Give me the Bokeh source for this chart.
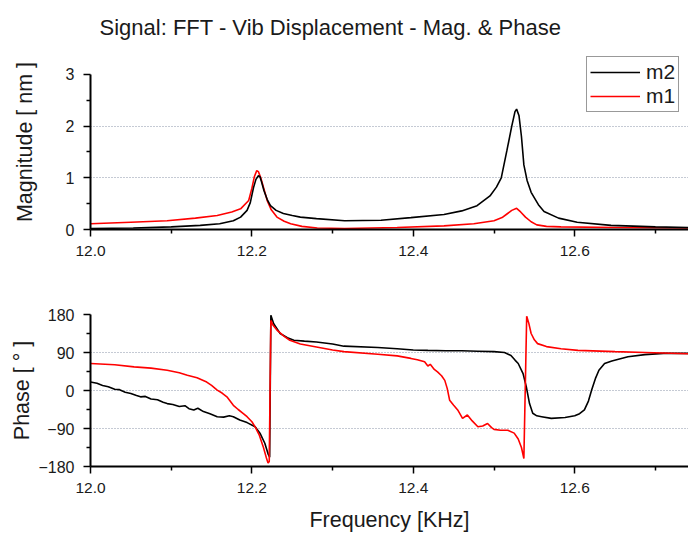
from bokeh.plotting import figure
from bokeh.layouts import column
from bokeh.models import Range1d, FixedTicker, PrintfTickFormatter, Legend, LegendItem
from bokeh.embed import file_html
from bokeh.resources import INLINE

# ---------------- data ----------------
title_text = "Signal: FFT - Vib Displacement - Mag. & Phase"
x_ticks = [12.0, 12.2, 12.4, 12.6]
x_minor = [12.1, 12.3, 12.5, 12.7]
mag_ticks = [0, 1, 2, 3]
mag_minor = [0.5, 1.5, 2.5]
phase_ticks = [-180, -90, 0, 90, 180]
phase_minor = [-135, -45, 45, 135]

mag_m2_f = [12.000, 12.053, 12.100, 12.136, 12.160, 12.177, 12.186, 12.194, 12.198, 12.202,
            12.205, 12.208, 12.210, 12.212, 12.215, 12.219, 12.223, 12.230, 12.239, 12.250,
            12.260, 12.280, 12.315, 12.360, 12.397, 12.438, 12.460, 12.479, 12.495, 12.503,
            12.509, 12.516, 12.522, 12.526, 12.528, 12.531, 12.534, 12.537, 12.541, 12.546,
            12.555, 12.562, 12.580, 12.603, 12.645, 12.700, 12.741]
mag_m2 = [0.02, 0.03, 0.05, 0.08, 0.11, 0.17, 0.24, 0.37, 0.52, 0.81,
          0.97, 1.04, 1.02, 0.92, 0.75, 0.58, 0.46, 0.37, 0.31, 0.27,
          0.24, 0.21, 0.17, 0.18, 0.23, 0.29, 0.36, 0.46, 0.65, 0.82,
          1.00, 1.53, 2.00, 2.28, 2.33, 2.20, 1.80, 1.25, 0.95, 0.72,
          0.48, 0.35, 0.22, 0.14, 0.08, 0.05, 0.04]

mag_m1_f = [12.000, 12.050, 12.095, 12.130, 12.157, 12.175, 12.186, 12.196, 12.200, 12.203,
            12.206, 12.208, 12.211, 12.215, 12.219, 12.224, 12.231, 12.240, 12.248, 12.262,
            12.281, 12.315, 12.380, 12.438, 12.475, 12.500, 12.510, 12.516, 12.522, 12.528,
            12.533, 12.539, 12.546, 12.553, 12.565, 12.583, 12.650, 12.741]
mag_m1 = [0.11, 0.14, 0.17, 0.22, 0.27, 0.34, 0.40, 0.56, 0.80, 1.02,
          1.14, 1.12, 1.00, 0.78, 0.56, 0.38, 0.24, 0.16, 0.11, 0.06,
          0.03, 0.02, 0.04, 0.07, 0.11, 0.17, 0.23, 0.30, 0.37, 0.41,
          0.34, 0.24, 0.15, 0.09, 0.06, 0.05, 0.04, 0.03]

ph_m2_f = [12.000, 12.008, 12.015, 12.022, 12.030, 12.036, 12.043, 12.050, 12.057, 12.062,
           12.068, 12.075, 12.083, 12.090, 12.095, 12.102, 12.110, 12.117, 12.122, 12.128,
           12.133, 12.140, 12.148, 12.157, 12.165, 12.172, 12.177, 12.185, 12.194, 12.204,
           12.210, 12.216, 12.220, 12.222, 12.2235, 12.227, 12.235, 12.244, 12.252, 12.265,
           12.280, 12.300, 12.314, 12.356, 12.380, 12.400, 12.418, 12.440, 12.460, 12.480,
           12.500, 12.513, 12.521, 12.526, 12.530, 12.536, 12.540, 12.544, 12.548, 12.553,
           12.559, 12.571, 12.588, 12.600, 12.606, 12.612, 12.617, 12.621, 12.626, 12.630,
           12.637, 12.646, 12.666, 12.687, 12.710, 12.741]
ph_m2 = [20, 17, 12, 9, 3, 2, -4, -7, -12, -15,
         -14, -20, -22, -28, -31, -33, -38, -36, -43, -46,
         -42, -50, -55, -62, -63, -60, -62, -70, -76, -86,
         -101, -125, -150, -158, 178, 158, 135, 125, 119, 117,
         115, 110, 105, 102, 99, 96, 95, 94, 94, 93,
         92, 90, 83, 72, 64, 40, 9, -31, -54, -60,
         -62, -66, -64, -60, -55, -46, -25, 1, 30, 48,
         64, 70, 80, 85, 88, 88]

ph_m1_f = [12.000, 12.030, 12.054, 12.075, 12.095, 12.110, 12.120, 12.132, 12.144, 12.150,
           12.157, 12.163, 12.169, 12.177, 12.183, 12.189, 12.194, 12.200, 12.204, 12.209,
           12.214, 12.218, 12.220, 12.2215, 12.2235, 12.226, 12.231, 12.240, 12.247, 12.260,
           12.280, 12.300, 12.314, 12.356, 12.380, 12.397, 12.405, 12.414, 12.418, 12.421,
           12.426, 12.430, 12.435, 12.439, 12.442, 12.445, 12.450, 12.455, 12.461, 12.467,
           12.473, 12.480, 12.486, 12.492, 12.497, 12.500, 12.508, 12.517, 12.525, 12.530,
           12.534, 12.537, 12.5405, 12.543, 12.546, 12.550, 12.554, 12.565, 12.583, 12.604,
           12.650, 12.687, 12.741]
ph_m1 = [64, 61, 56, 53, 48, 42, 36, 30, 20, 12,
         1, -6, -15, -35, -45, -54, -62, -74, -86, -105,
         -133, -160, -172, -168, 166, 155, 143, 128, 119, 110,
         103, 96, 92, 86, 82, 76, 73, 68, 58, 62,
         50, 44, 35, 24, 5, -23, -35, -46, -66, -58,
         -72, -86, -84, -78, -88, -92, -94, -94, -101, -115,
         -135, -161, 176, 160, 135, 120, 111, 104, 99, 95,
         92, 90, 87]

# ---------------- styling helpers ----------------
FONT = "Liberation Sans"
X_START, X_END = 12.0, 12.741


def style_axes(p, yticks, yminor, ylabel, y_standoff, show_xlabel):
    p.outline_line_color = None
    p.background_fill_color = "white"
    p.border_fill_color = "white"
    p.xgrid.visible = False
    for ax in (p.xaxis[0], p.yaxis[0]):
        ax.axis_line_width = 2
        ax.axis_line_color = "black"
        ax.major_tick_out = 7
        ax.major_tick_in = 0
        ax.minor_tick_out = 4
        ax.minor_tick_in = 0
        ax.major_tick_line_width = 1.5
        ax.minor_tick_line_width = 1.5
        ax.major_label_text_font = FONT
        ax.major_label_text_color = "#1a1a1a"
        ax.axis_label_text_font = FONT
        ax.axis_label_text_font_size = "21.5px"
        ax.axis_label_text_font_style = "normal"
        ax.axis_label_text_color = "#1a1a1a"
    p.xaxis[0].major_label_text_font_size = "15.5px"
    p.yaxis[0].major_label_text_font_size = "16px"
    p.xaxis[0].ticker = FixedTicker(ticks=x_ticks, minor_ticks=x_minor)
    p.xaxis[0].formatter = PrintfTickFormatter(format="%.1f")
    p.xaxis[0].major_label_standoff = 9
    p.yaxis[0].ticker = FixedTicker(ticks=yticks, minor_ticks=yminor)
    p.yaxis[0].major_label_standoff = 9
    p.yaxis[0].axis_label = ylabel
    p.yaxis[0].axis_label_standoff = y_standoff
    if show_xlabel:
        p.xaxis[0].axis_label = "Frequency [KHz]"
        p.xaxis[0].axis_label_standoff = 12


# ---------------- top: magnitude ----------------
# frame spans a little above 3 so the legend can sit higher than the top tick
p1 = figure(width=688, height=290, output_backend="svg", toolbar_location=None,
            x_range=Range1d(X_START, X_END), y_range=Range1d(0, 3.387),
            min_border_left=90, min_border_right=0, min_border_top=54, min_border_bottom=61)
style_axes(p1, mag_ticks, mag_minor, "Magnitude [ nm ]", 26, False)
p1.yaxis[0].bounds = (0, 3)
p1.ygrid.ticker = FixedTicker(ticks=[1, 2])
p1.ygrid.grid_line_color = "#8a94a8"
p1.ygrid.grid_line_dash = "1 2"
p1.ygrid.grid_line_width = 1

r_m1 = p1.line(mag_m1_f, mag_m1, line_color="#ff0000", line_width=1.6)
r_m2 = p1.line(mag_m2_f, mag_m2, line_color="black", line_width=1.6)

p1.title.text = title_text
p1.title.text_font = FONT
p1.title.text_font_size = "22px"
p1.title.text_font_style = "normal"
p1.title.text_color = "#1a1a1a"
p1.title.align = "left"
p1.title.vertical_align = "top"
p1.title.offset = 9
p1.title.standoff = 26

legend = Legend(items=[LegendItem(label="m2", renderers=[r_m2]),
                       LegendItem(label="m1", renderers=[r_m1])],
                location=(496, 117))
legend.label_text_font = FONT
legend.label_text_font_size = "21px"
legend.label_text_color = "#1a1a1a"
legend.glyph_width = 50
legend.glyph_height = 18
legend.label_height = 18
legend.label_standoff = 6
legend.padding = 3
legend.spacing = 0
legend.margin = 0
legend.border_line_color = "#333333"
legend.border_line_width = 1
legend.background_fill_color = "white"
legend.background_fill_alpha = 1
p1.add_layout(legend, "center")

# ---------------- bottom: phase ----------------
p2 = figure(width=688, height=244, output_backend="svg", toolbar_location=None,
            x_range=Range1d(X_START, X_END), y_range=Range1d(-180, 180),
            min_border_left=90, min_border_right=0, min_border_top=24, min_border_bottom=67)
style_axes(p2, phase_ticks, phase_minor, "Phase [ ° ]", 1, True)
p2.ygrid.ticker = FixedTicker(ticks=[-90, 0, 90])
p2.ygrid.grid_line_color = "#8a94a8"
p2.ygrid.grid_line_dash = "1 2"
p2.ygrid.grid_line_width = 1

p2.line(ph_m2_f, ph_m2, line_color="black", line_width=1.6)
p2.line(ph_m1_f, ph_m1, line_color="#ff0000", line_width=1.6)

layout = column(p1, p2, spacing=0)
open("out.html", "w").write(file_html(layout, INLINE))
